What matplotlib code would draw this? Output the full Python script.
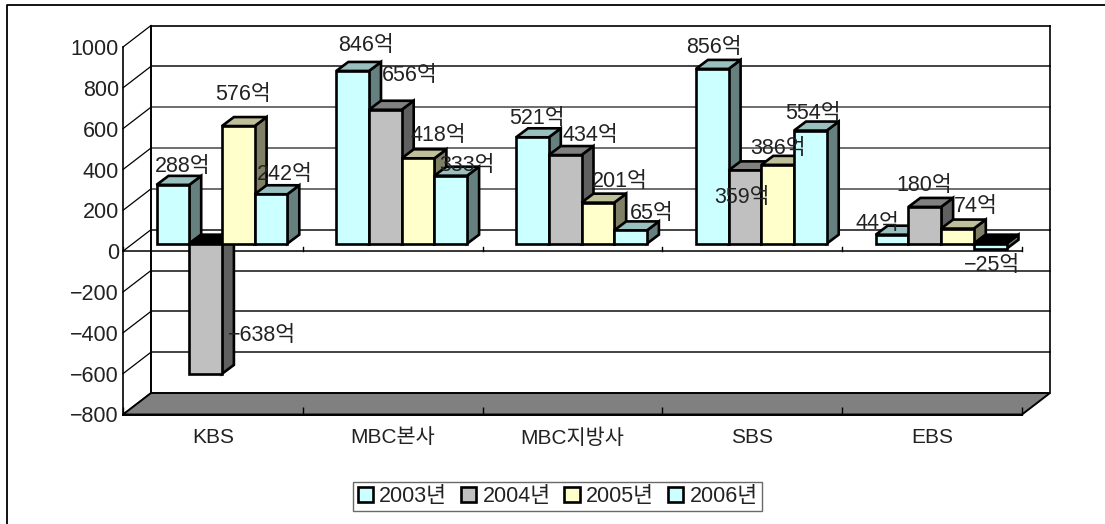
import matplotlib
matplotlib.use("Agg")
import matplotlib.pyplot as plt
from matplotlib.patches import Polygon, Rectangle
from matplotlib.lines import Line2D

plt.rcParams['font.family'] = ['Liberation Sans', 'Noto Sans CJK KR']
plt.rcParams['axes.unicode_minus'] = False

categories = ['KBS', 'MBC본사', 'MBC지방사', 'SBS', 'EBS']
years = ['2003년', '2004년', '2005년', '2006년']
v2003 = [288, 846, 521, 856, 44]
v2004 = [-638, 656, 434, 359, 180]
v2005 = [576, 418, 201, 386, 74]
v2006 = [242, 333, 65, 554, -25]
series = [v2003, v2004, v2005, v2006]
yticks = [-800, -600, -400, -200, 0, 200, 400, 600, 800, 1000]
ytick_labels = ['−800', '−600', '−400', '−200', '0', '200', '400', '600', '800', '1000']

# label offsets from the bar-top anchor, in pixels (x right, y down)
label_off = [
    [(10, -18), (13, -25), (4, -19), (2, -21), (-15, -11)],
    [(56, -38), (24.5, -34), (25, -20), (-3, 27), (-1, -21)],
    [(5, -32), (20, -23), (22, -21), (0, -16), (18, -22)],
    [(14, -20), (16.5, -10.6), (21, -17), (2.5, -17.5), (2, 17)],
]
front_col = ['#CCFFFF', '#C0C0C0', '#FFFFCC', '#CCFFFF']
top_col = ['#99BFBF', '#808080', '#BFBF99', '#99BFBF']
side_col = ['#668080', '#606060', '#808066', '#668080']

W, H = 1105, 524
L, R, T, B = 123, 1022, 47, 414.5
fig = plt.figure(figsize=(W / 100, H / 100), dpi=100, facecolor='white')
ax = fig.add_axes([L / W, 1 - B / H, (R - L) / W, (B - T) / H])
ax.set_xlim(0, 5)
ax.set_ylim(-800, 1000)
ax.patch.set_visible(False)

px_x = 5 / (R - L)          # data units per pixel
px_y = 1800 / (B - T)
wall_dx, wall_dy = 28 * px_x, 21.5 * px_y
bar_dx, bar_dy = 9 * px_x, 7.5 * px_y
dep_dx, dep_dy = 12 * px_x, 9 * px_y
gap = 24.5 * px_x
bw = 32.7 * px_x


def poly(pts, fc, z, ec='black', lw=1.9):
    ax.add_patch(Polygon(pts, closed=True, fc=fc, ec=ec, lw=lw, zorder=z,
                         clip_on=False, joinstyle='miter'))


def line(xs, ys, z=1, lw=1.1, c='black'):
    ax.add_line(Line2D(xs, ys, color=c, lw=lw, zorder=z, clip_on=False))


# back wall grid and side-wall diagonals
for t in yticks:
    if t not in (1000, -800):
        shade = '#555555' if t in (200, 400, 600) else '#222222'
        line([wall_dx, 5 + wall_dx], [t + wall_dy] * 2, lw=1.2, c=shade)
    line([0, wall_dx], [t, t + wall_dy], lw=0.9)
line([wall_dx, 5 + wall_dx], [1000 + wall_dy] * 2, lw=1.2)
line([wall_dx, wall_dx], [-800 + wall_dy, 1000 + wall_dy], lw=1.4)
line([5 + wall_dx, 5 + wall_dx], [-800 + wall_dy, 1000 + wall_dy], lw=1.2)

# floor
poly([(0, -800), (5, -800), (5 + wall_dx, -800 + wall_dy), (wall_dx, -800 + wall_dy)],
     '#808080', 1.5, lw=1.4)

# zero line with small category ticks
line([0, 5], [0, 0], z=2, lw=1.1)
for i in range(6):
    line([i, i], [0, 4 * px_y], z=2, lw=1.0)

# bars
z = 3
for i in range(len(categories)):
    for j, s in enumerate(series):
        v = s[i]
        x0 = i + gap + bar_dx + j * bw
        x1 = x0 + bw
        y0, y1 = bar_dy, v + bar_dy
        hi = max(y0, y1)
        lo = min(y0, y1)
        poly([(x1, lo), (x1 + dep_dx, lo + dep_dy), (x1 + dep_dx, hi + dep_dy), (x1, hi)],
             side_col[j], z)
        poly([(x0, hi), (x1, hi), (x1 + dep_dx, hi + dep_dy), (x0 + dep_dx, hi + dep_dy)],
             'black' if v < 0 else top_col[j], z)
        poly([(x0, lo), (x1, lo), (x1, hi), (x0, hi)], front_col[j], z)
        z += 0.01

# value labels
for j, s in enumerate(series):
    for i, v in enumerate(s):
        x = i + gap + bar_dx + (j + 0.5) * bw
        dx, dy = label_off[j][i]
        txt = ('−' + str(-v) if v < 0 else str(v)) + '억'
        ax.annotate(txt, xy=(x, v + bar_dy), xytext=(dx * 0.72, -dy * 0.72),
                    textcoords='offset points', ha='center', va='center',
                    fontsize=15.5, color='#222222', zorder=10, annotation_clip=False)

# axes
for sp in ('top', 'right'):
    ax.spines[sp].set_visible(False)
ax.spines['left'].set_linewidth(1.2)
ax.spines['bottom'].set_linewidth(1.4)
ax.set_yticks(yticks)
ax.set_yticklabels(ytick_labels, fontsize=15.5, color='#222222')
ax.tick_params(axis='y', length=0, pad=3)
ax.set_xticks(range(6))
ax.set_xticklabels([])
ax.tick_params(axis='x', which='major', direction='in', length=6, width=1)
ax.set_xticks([i + 0.5 for i in range(5)], minor=True)
ax.set_xticklabels(categories, minor=True, fontsize=15, color='#222222')
ax.tick_params(axis='x', which='minor', length=0, pad=10)

# outer frame: only top and left edges are inside the image
fig.add_artist(Line2D([7 / W, 7 / W, 1], [0, 1 - 4.5 / H, 1 - 4.5 / H],
                      transform=fig.transFigure, color='black', lw=1.3))

# legend
handles = [Rectangle((0, 0), 1, 1, fc=c, ec='black', lw=1.9) for c in front_col]
leg = fig.legend(handles, years, loc='center', bbox_to_anchor=(557.5 / W, 1 - 496.5 / H),
                 ncol=4, frameon=True, fancybox=False, edgecolor='#444444', fontsize=15.5,
                 handlelength=0.7, handleheight=0.7, handletextpad=0.3, columnspacing=0.65,
                 labelcolor='#222222', borderpad=0.2, borderaxespad=0)
leg.get_frame().set_linewidth(1.0)

fig.savefig('out.png', dpi=100)
